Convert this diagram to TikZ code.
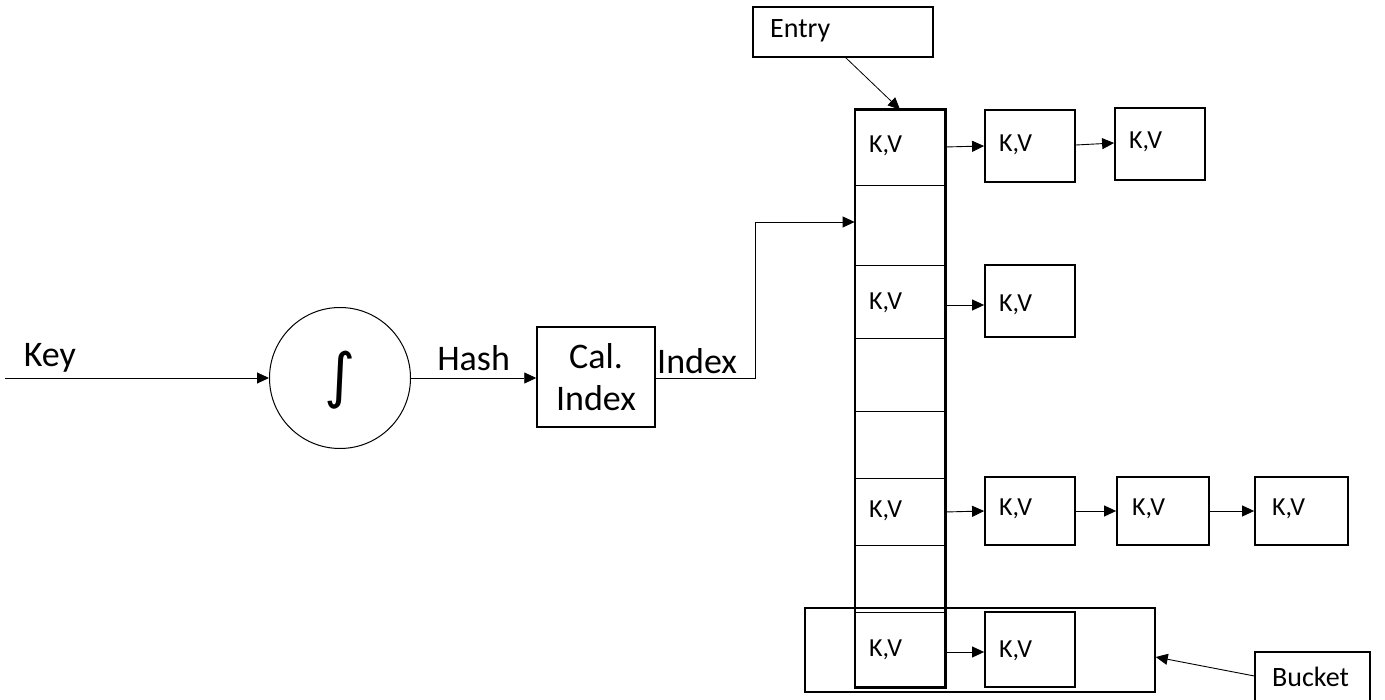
\documentclass[tikz,border=0pt]{standalone}
\usepackage{fontspec}
\setmainfont{Carlito}
\newfontfamily\symfont{DejaVu Sans}
\usetikzlibrary{arrows.meta}
\begin{document}
\begin{tikzpicture}[x=1pt,y=-1pt,
  box/.style={draw,line width=1.8pt,inner sep=0pt},
  cell/.style={draw,line width=0.8pt,minimum width=90pt,inner sep=0pt},
  small/.style={font=\fontsize{26}{30}\selectfont},
  big/.style={font=\fontsize{36}{40}\selectfont},
  tip/.style={-{Triangle[length=12pt,width=11pt]}},
  arr/.style={line width=0.9pt,tip},
  lbl/.style={anchor=west,inner sep=0pt,small}
]
\useasboundingbox (0,0) rectangle (1385,700);
% bucket frame
\node[draw,line width=1.5pt,minimum width=350pt,minimum height=84pt,inner sep=0pt] (bucketbox) at (980,650) {};
% column cells
\node[cell,minimum height=75pt] (c1) at (900,147.5) {};
\node[cell,minimum height=80pt] (c2) at (900,225) {};
\node[cell,minimum height=73pt] (c3) at (900,301.5) {};
\node[cell,minimum height=73pt] (c4) at (900,374.5) {};
\node[cell,minimum height=67pt] (c5) at (900,444.5) {};
\node[cell,minimum height=67pt] (c6) at (900,511.5) {};
\node[cell,minimum height=67pt] (c7) at (900,578.5) {};
\node[cell,minimum height=75pt] (c8) at (900,649.5) {};
\draw[line width=2.2pt] (c1.north west) rectangle (c8.south east);
\node[lbl] at (869,146) {K,V};
\node[lbl] at (869,303) {K,V};
\node[lbl] at (869,511) {K,V};
\node[lbl] at (869,650) {K,V};
% chain boxes
\node[box,minimum width=90pt,minimum height=72pt] (r1a) at (1030,146) {};
\node[box,minimum width=90pt,minimum height=72pt] (r1b) at (1160,144) {};
\node[box,minimum width=90pt,minimum height=72pt] (r3a) at (1030,301) {};
\node[box,minimum width=90pt,minimum height=68pt] (r6a) at (1030,511) {};
\node[box,minimum width=92pt,minimum height=68pt] (r6b) at (1163,511) {};
\node[box,minimum width=93pt,minimum height=68pt] (r6c) at (1301.5,511) {};
\node[box,minimum width=90pt,minimum height=75pt] (r8a) at (1030,649.5) {};
\node[lbl] at (999,145) {K,V};
\node[lbl] at (1129,142) {K,V};
\node[lbl] at (999,305) {K,V};
\node[lbl] at (999,509) {K,V};
\node[lbl] at (1132,509) {K,V};
\node[lbl] at (1272,509) {K,V};
\node[lbl] at (999,651) {K,V};
\draw[arr] (945,147) -- (r1a.west |- 0,146);
\draw[arr] (r1a.east |- 0,145) -- (r1b.west |- 0,143);
\draw[arr] (945,305) -- (r3a.west |- 0,305);
\draw[arr] (945,512) -- (r6a.west |- 0,511);
\draw[arr] (r6a.east |- 0,511) -- (r6b.west |- 0,511);
\draw[arr] (r6b.east |- 0,511) -- (r6c.west |- 0,511);
\draw[arr] (945,652) -- (r8a.west |- 0,652);
% entry and bucket labels
\node[box,minimum width=180pt,minimum height=50pt] (entry) at (843,32) {};
\node[lbl,font=\fontsize{28}{32}\selectfont] at (770,31) {Entry};
\draw[line width=0.8pt,tip] (845,57) -- (c1.north);
\node[box,line width=1.3pt,minimum width=115pt,minimum height=56pt] (bucket) at (1312.5,680) {};
\node[lbl,font=\fontsize{28}{32}\selectfont] at (1272,677) {Bucket};
\draw[arr] (bucket.west |- 0,676) -- (bucketbox.east |- 0,657);
% left part
\coordinate (start) at (5,378);
\node[draw,circle,line width=1pt,minimum size=141pt,inner sep=0pt] (hash) at (340,378) {};
\node[inner sep=0pt,font=\symfont\fontsize{60}{64}\selectfont] at (340,380) {∫};
\node[box,line width=1.5pt,minimum width=118pt,minimum height=100pt,align=center,big] (calc) at (596,377) {Cal.\\[2pt]Index};
\draw[arr] (start) -- node[above,pos=0.17,big,inner sep=5pt] {Key} (hash.west);
\draw[arr] (hash.east) -- node[above,big,inner sep=7pt] {Hash} (calc.west |- 0,378);
\draw[arr] (calc.east |- 0,378) -- (755,378) |- (c2.west |- 0,222);
\node[big,anchor=south west,inner sep=0pt] at (657,374) {Index};
\end{tikzpicture}
\end{document}
